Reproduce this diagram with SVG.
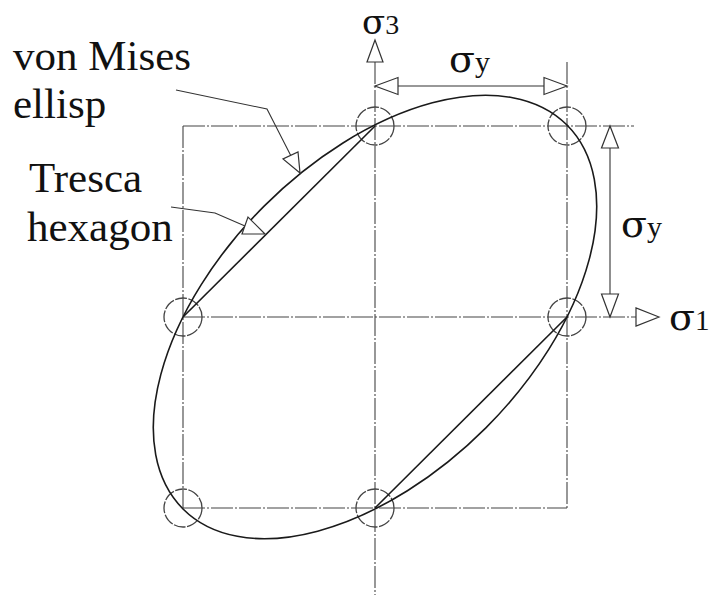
<svg xmlns="http://www.w3.org/2000/svg" width="710" height="595" viewBox="0 0 710 595">
<style>
.txt{font-family:"Liberation Serif","Times New Roman",serif;fill:#111}
.sig{font-family:"DejaVu Serif","Liberation Serif",serif}
.axis{stroke:#444;stroke-width:1.1;fill:none;stroke-dasharray:22 2 2 2}
.thin{stroke:#333;stroke-width:1.1;fill:none}
.curve{stroke:#1a1a1a;stroke-width:1.6;fill:none}
.circ{stroke:#444;stroke-width:1.3;fill:none;stroke-dasharray:12 1.5}
.tri{fill:#fff;stroke:#333;stroke-width:1.2}
</style>
<rect width="710" height="595" fill="#fff"/>
<g id="frame">
<line class="axis" x1="183" y1="126" x2="634" y2="126"/>
<line class="axis" x1="183" y1="126" x2="183" y2="508"/>
<line class="axis" x1="183" y1="508" x2="567" y2="508"/>
<line class="axis" x1="567" y1="62" x2="567" y2="508"/>
</g>
<g id="axes">
<line class="axis" x1="375" y1="62" x2="375" y2="595"/>
<polygon class="tri" points="375,40 367,62 383,62"/>
<line class="axis" x1="183" y1="317" x2="636" y2="317"/>
<polygon class="tri" points="659,317 636,308 636,326"/>
<text class="txt" x="362" y="34"><tspan class="sig" font-size="34">σ</tspan><tspan font-size="28">3</tspan></text>
<text class="txt" x="669" y="330"><tspan class="sig" font-size="38">σ</tspan><tspan font-size="29">1</tspan></text>
</g>
<g id="vertex-circles">
<circle class="circ" cx="375" cy="126" r="19"/>
<circle class="circ" cx="567" cy="126" r="19"/>
<circle class="circ" cx="567" cy="317" r="19"/>
<circle class="circ" cx="375" cy="508" r="19"/>
<circle class="circ" cx="183" cy="508" r="19"/>
<circle class="circ" cx="183" cy="317" r="19"/>
</g>
<g id="von-mises-ellipse">
<ellipse class="curve" cx="375" cy="317" rx="271.5" ry="156.8" transform="rotate(-45 375 317)"/>
</g>
<g id="tresca-hexagon">
<line class="curve" x1="183" y1="317" x2="375" y2="126"/>
<line class="curve" x1="567" y1="317" x2="375" y2="508"/>
</g>
<g id="dim-top">
<line class="thin" x1="375" y1="86" x2="567" y2="86"/>
<polygon class="tri" points="375,86 398,77.5 398,94.5"/>
<polygon class="tri" points="567,86 544,77.5 544,94.5"/>
<text class="txt" x="449" y="72"><tspan class="sig" font-size="38">σ</tspan><tspan font-size="30">y</tspan></text>
</g>
<g id="dim-right">
<line class="thin" x1="610" y1="126" x2="610" y2="317"/>
<polygon class="tri" points="610,126 601.5,148 618.5,148"/>
<polygon class="tri" points="610,317 601.5,294 618.5,294"/>
<text class="txt" x="621" y="237"><tspan class="sig" font-size="38">σ</tspan><tspan font-size="30">y</tspan></text>
</g>
<g id="label-von-mises">
<text class="txt" x="13" y="70" font-size="43">von Mises</text>
<text class="txt" x="13" y="118" font-size="43">ellisp</text>
<polyline class="thin" points="176,90 267,109 291,156"/>
<polygon class="tri" points="300,173 283,159 298,152"/>
</g>
<g id="label-tresca">
<text class="txt" x="29" y="192" font-size="43">Tresca</text>
<text class="txt" x="27" y="241" font-size="43">hexagon</text>
<polyline class="thin" points="171,207 215,213 245,226"/>
<polygon class="tri" points="265,234 248,217 242,234"/>
</g>
</svg>
